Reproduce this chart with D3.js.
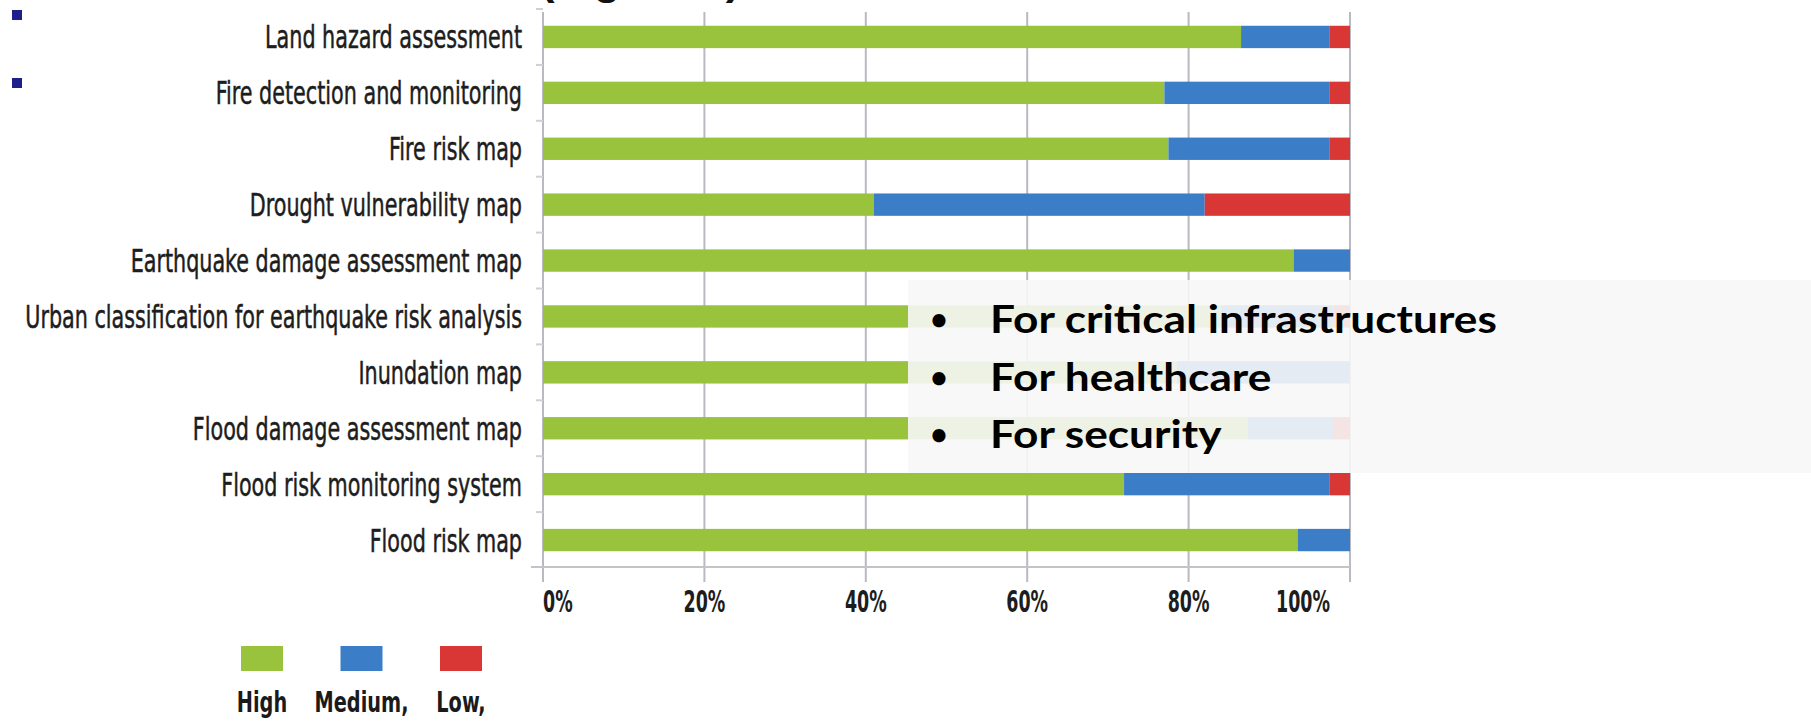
<!DOCTYPE html>
<html>
<head>
<meta charset="utf-8">
<script src="https://cdn.jsdelivr.net/npm/d3@7"></script>
<style>
  html, body { margin: 0; padding: 0; background: #fff; }
  svg { display: block; }
</style>
</head>
<body>
<svg id="chart" width="1811" height="728"></svg>
<script>
// values, in percent
const categories = [
  "Land hazard assessment",
  "Fire detection and monitoring",
  "Fire risk map",
  "Drought vulnerability map",
  "Earthquake damage assessment map",
  "Urban classification for earthquake risk analysis",
  "Inundation map",
  "Flood damage assessment map",
  "Flood risk monitoring system",
  "Flood risk map"
];
const high   = [86.5, 77.0, 77.5, 41.0, 93.0, 84.0, 78.5, 87.3, 72.0, 93.5];
const medium = [11.0, 20.5, 20.0, 41.0,  7.0, 14.0, 21.5, 10.6, 25.5,  6.5];
const low    = [ 2.5,  2.5,  2.5, 18.0,  0.0,  2.0,  0.0,  2.1,  2.5,  0.0];

const levels = ["High", "Medium,", "Low,"];
const levelColors = ["#99c23d", "#3b7ec7", "#d93636"];
const tickValues = [0, 20, 40, 60, 80, 100];
const tickLabels = ["0%", "20%", "40%", "60%", "80%", "100%"];
const bulletLines = ["For critical infrastructures", "For healthcare", "For security"];

const svg = d3.select("#chart");
const narrow = "'Liberation Sans Narrow', 'DejaVu Sans Condensed', sans-serif";

svg.append("rect").attr("width", 1811).attr("height", 728).attr("fill", "#fff");

const x = d3.scaleLinear().domain([0, 100]).range([543, 1350]);
const y = d3.scaleBand().domain(categories).range([9, 568]).paddingInner(0.6).paddingOuter(0.3);

// squeeze a text horizontally so the reference one hits a given width
const squeeze = (sel, refNode, target) => {
  let s = target / refNode.getComputedTextLength();
  sel.attr("transform", function() { return d3.select(this).attr("data-t") + ` scale(${s},1)`; });
};

// cut-off title at the very top, only the descenders show
svg.append("text")
   .attr("x", 540).attr("y", -6)
   .style("font-family", "'Liberation Sans', Arial, sans-serif")
   .style("font-weight", "bold").style("font-size", "44px")
   .attr("fill", "#111")
   .text("(Figure 6)");

// slide bullets top left
svg.selectAll("rect.sq")
   .data([10, 78])
   .enter().append("rect")
   .attr("class", "sq")
   .attr("x", 12).attr("y", d => d)
   .attr("width", 10).attr("height", 10)
   .attr("fill", "#1f1f8c");

// grid
svg.append("g")
   .selectAll("line")
   .data(tickValues)
   .enter().append("line")
   .attr("x1", d => x(d)).attr("x2", d => x(d))
   .attr("y1", 12).attr("y2", 582)
   .attr("stroke", "#b9b9c2").attr("stroke-width", 2);

// band ticks on the left of the axis
let bounds = categories.map(c => y(c) - y.step() * y.paddingInner() / 2).concat([y.range()[1] - 1]);
svg.append("g")
   .selectAll("line")
   .data(bounds)
   .enter().append("line")
   .attr("x1", x(0) - 7).attr("x2", x(0))
   .attr("y1", d => d).attr("y2", d => d)
   .attr("stroke", "#cfcfd6").attr("stroke-width", 2);

svg.append("line")
   .attr("x1", x(0) - 12).attr("x2", x(100))
   .attr("y1", 567).attr("y2", 567)
   .attr("stroke", "#c4c4c8").attr("stroke-width", 2);

// stacked bars
const table = categories.map((c, i) => ({ cat: c, High: high[i], "Medium,": medium[i], "Low,": low[i] }));
const series = d3.stack().keys(levels)(table);

svg.append("g")
   .selectAll("g")
   .data(series)
   .enter().append("g")
   .attr("fill", (d, i) => levelColors[i])
   .selectAll("rect")
   .data(d => d)
   .enter().append("rect")
   .attr("x", d => x(d[0]))
   .attr("width", d => x(d[1]) - x(d[0]))
   .attr("y", d => y(d.data.cat))
   .attr("height", y.bandwidth());

// category labels
let catLabels = svg.append("g")
   .selectAll("text")
   .data(categories)
   .enter().append("text")
   .attr("data-t", d => `translate(522,${y(d) + y.bandwidth() / 2 + 11.5})`)
   .attr("text-anchor", "end")
   .style("font-family", narrow)
   .style("font-size", "32px")
   .attr("fill", "#1d1d1d")
   .attr("stroke", "#1d1d1d").attr("stroke-width", 0.5)
   .text(d => d);
squeeze(catLabels, catLabels.nodes()[5], 497);

// tick labels
let tl = svg.append("g")
   .selectAll("text")
   .data(tickValues)
   .enter().append("text")
   .attr("data-t", (d, i) => `translate(${i == tickValues.length - 1 ? x(d) - 20 : x(d)},612)`)
   .attr("text-anchor", (d, i) => i == 0 ? "start" : i == tickValues.length - 1 ? "end" : "middle")
   .style("font-family", narrow)
   .style("font-weight", "bold")
   .style("font-size", "31px")
   .attr("fill", "#1d1d1d")
   .text((d, i) => tickLabels[i]);
squeeze(tl, tl.nodes()[5], 54);

// legend
const lx = d3.scalePoint().domain(levels).range([262, 461]);
svg.append("g")
   .selectAll("rect")
   .data(levels)
   .enter().append("rect")
   .attr("x", d => lx(d) - 21).attr("y", 646)
   .attr("width", 42).attr("height", 25)
   .attr("fill", (d, i) => levelColors[i]);
let lt = svg.append("g")
   .selectAll("text")
   .data(levels)
   .enter().append("text")
   .attr("data-t", d => `translate(${lx(d)},712)`)
   .attr("text-anchor", "middle")
   .style("font-family", narrow)
   .style("font-weight", "bold")
   .style("font-size", "28px")
   .attr("fill", "#1a1a1a")
   .text(d => d);
squeeze(lt, lt.nodes()[1], 94);

// overlay box of the slide
svg.append("rect")
   .attr("x", 908).attr("y", 280)
   .attr("width", 1811 - 908).attr("height", 193)
   .attr("fill", "#f7f7f7").attr("fill-opacity", 0.9);

let bl = svg.append("g")
   .selectAll("g")
   .data(bulletLines)
   .enter().append("g")
   .attr("transform", (d, i) => `translate(0,${333 + i * 57.5})`);
bl.append("text")
   .attr("x", 939).attr("y", -3).attr("text-anchor", "middle")
   .style("font-family", "Lato, 'Open Sans', sans-serif")
   .style("font-weight", "bold").style("font-size", "30px")
   .attr("fill", "#000")
   .text("\u2022");
let bt = bl.append("text")
   .attr("data-t", "translate(990,0)")
   .style("font-family", "Lato, 'Open Sans', sans-serif")
   .style("font-weight", "bold").style("font-size", "39px")
   .attr("fill", "#000")
   .text(d => d);
squeeze(bt, bt.nodes()[0], 507);
</script>
</body>
</html>
